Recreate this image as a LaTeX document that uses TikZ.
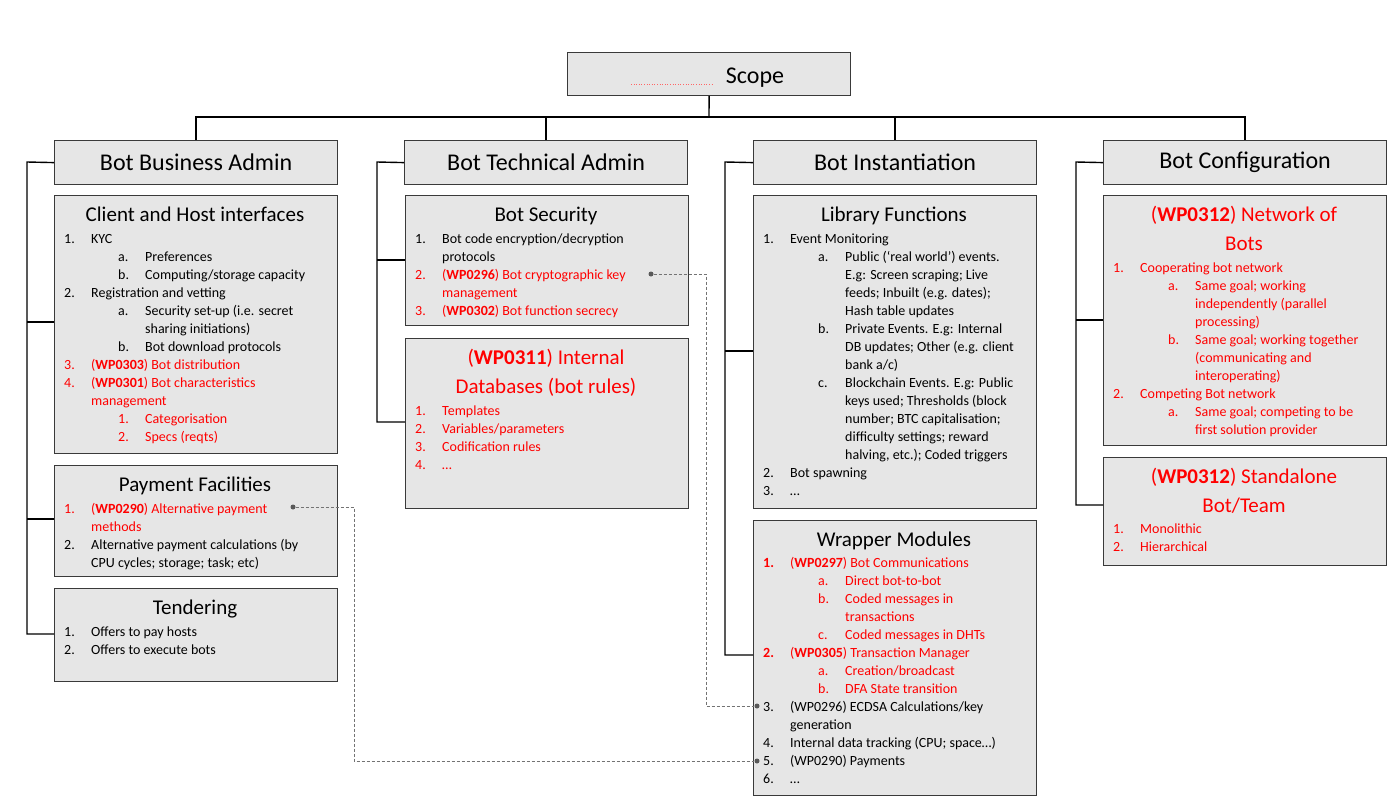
\documentclass[tikz,border=0pt]{standalone}
\usepackage{fontspec}
\setmainfont{Carlito}
\definecolor{boxfill}{HTML}{E6E6E6}
\definecolor{boxline}{HTML}{3A3A3A}
\definecolor{wpred}{HTML}{FF0000}
\newcommand\bodyfont{\fontsize{14}{16}\selectfont}
\newcommand\titlefont{\fontsize{21}{24}\selectfont}
\newcommand\headfont{\fontsize{24}{28}\selectfont}
% line: colour, x, y(center), text
\newcommand\tl[4][black]{\node[anchor=base west,inner sep=0,text=#1,font=\bodyfont] at (#2,#3+5) {#4};}
\newcommand\ttl[4][black]{\node[anchor=base,inner sep=0,text=#1,font=\titlefont] at (#2,#3+7) {#4};}
\tikzset{
  wbox/.style={draw=boxline,fill=boxfill,line width=1.2pt,anchor=north west,inner sep=0,minimum width=283pt},
  hbox/.style={wbox,minimum height=44pt,font=\headfont},
  tree/.style={draw=black,line width=1.4pt},
  link/.style={draw=gray!90!black,densely dashed,line width=0.8pt},
  dot/.style={circle,fill=gray!70!black,inner sep=0,minimum size=5pt}
}
\begin{document}
\begin{tikzpicture}[x=1pt,y=-1pt]
\useasboundingbox (0,0) rectangle (1400,803);
% scope
\node[wbox,minimum width=283pt,minimum height=43pt] (scope) at (567,52) {};
\draw[wpred!60,dotted,line width=0.6pt] (631,84) -- (714,84);
\node[font=\headfont,anchor=base] at (755,83) {Scope};
% headers
\node[hbox] (h1) at (54,140) {Bot Business Admin};
\node[hbox] (h2) at (404,140) {Bot Technical Admin};
\node[hbox] (h3) at (753,140) {Bot Instantiation};
\node[hbox] (h4) at (1103,140) {Bot Configuration};
\draw[tree] (scope.south) -- (709,117) coordinate (tj);
\draw[tree] (h1.north) |- (tj) -| (h4.north);
\draw[tree] (h2.north) -- (h2.north |- tj);
\draw[tree] (h3.north) -- (h3.north |- tj);
% boxes
\node[wbox,minimum height=258pt] (client) at (54,195) {};
\node[wbox,minimum height=111pt] (pay) at (54,465) {};
\node[wbox,minimum height=93pt] (tend) at (54,588) {};
\node[wbox,minimum height=130pt] (sec) at (405,195) {};
\node[wbox,minimum height=170pt] (idb) at (405,338) {};
\node[wbox,minimum height=313pt] (lib) at (753,195) {};
\node[wbox,minimum height=275pt] (wrap) at (753,520) {};
\node[wbox,minimum height=250pt] (net) at (1103,195) {};
\node[wbox,minimum height=108pt] (stand) at (1103,457) {};
% brackets
\draw[tree] (h1.west) -- (27,162) -- (27,634) -- (tend.west |- 0,634);
\draw[tree] (27,322) -- (client.west |- 0,322);
\draw[tree] (27,519) -- (pay.west |- 0,519);
\draw[tree] (h2.west) -- (377,162) -- (377,422) -- (idb.west |- 0,422);
\draw[tree] (377,260) -- (sec.west |- 0,260);
\draw[tree] (h3.west) -- (725,162) -- (725,655) -- (wrap.west |- 0,655);
\draw[tree] (725,351) -- (lib.west |- 0,351);
\draw[tree] (h4.west) -- (1076,162) -- (1076,505) -- (stand.west |- 0,505);
\draw[tree] (1076,320) -- (net.west |- 0,320);
% ---- column 1
\ttl{195}{214}{Client and Host interfaces}
\tl{64}{238}{1.}\tl{91}{238}{KYC}
\tl{118}{256}{a.}\tl{145}{256}{Preferences}
\tl{118}{274}{b.}\tl{145}{274}{Computing/storage capacity}
\tl{64}{292}{2.}\tl{91}{292}{Registration and vetting}
\tl{118}{310}{a.}\tl{145}{310}{Security set-up (i.e. secret}
\tl{145}{328}{sharing initiations)}
\tl{118}{346}{b.}\tl{145}{346}{Bot download protocols}
\tl[wpred]{64}{364}{3.}\tl[wpred]{91}{364}{(\textbf{WP0303}) Bot distribution}
\tl[wpred]{64}{382}{4.}\tl[wpred]{91}{382}{(\textbf{WP0301}) Bot characteristics}
\tl[wpred]{91}{400}{management}
\tl[wpred]{118}{418}{1.}\tl[wpred]{145}{418}{Categorisation}
\tl[wpred]{118}{436}{2.}\tl[wpred]{145}{436}{Specs (reqts)}
\ttl{195}{484}{Payment Facilities}
\tl[wpred]{64}{508}{1.}\tl[wpred]{91}{508}{(\textbf{WP0290}) Alternative payment}
\tl[wpred]{91}{526}{methods}
\tl{64}{544}{2.}\tl{91}{544}{Alternative payment calculations (by}
\tl{91}{562}{CPU cycles; storage; task; etc)}
\ttl{195}{607}{Tendering}
\tl{64}{631}{1.}\tl{91}{631}{Offers to pay hosts}
\tl{64}{649}{2.}\tl{91}{649}{Offers to execute bots}
% ---- column 2
\ttl{546}{214}{Bot Security}
\tl{415}{238}{1.}\tl{442}{238}{Bot code encryption/decryption}
\tl{442}{256}{protocols}
\tl[wpred]{415}{274}{2.}\tl[wpred]{442}{274}{(\textbf{WP0296}) Bot cryptographic key}
\tl[wpred]{442}{292}{management}
\tl[wpred]{415}{310}{3.}\tl[wpred]{442}{310}{(\textbf{WP0302}) Bot function secrecy}
\ttl[wpred]{546}{357}{(\textbf{WP0311}) Internal}
\ttl[wpred]{546}{386}{Databases (bot rules)}
\tl[wpred]{415}{410}{1.}\tl[wpred]{442}{410}{Templates}
\tl[wpred]{415}{428}{2.}\tl[wpred]{442}{428}{Variables/parameters}
\tl[wpred]{415}{446}{3.}\tl[wpred]{442}{446}{Codification rules}
\tl[wpred]{415}{464}{4.}\tl[wpred]{442}{464}{\dots}
% ---- column 3
\ttl{894}{214}{Library Functions}
\tl{763}{238}{1.}\tl{790}{238}{Event Monitoring}
\tl{818}{256}{a.}\tl{845}{256}{Public (‘real world’) events.}
\tl{845}{274}{E.g: Screen scraping; Live}
\tl{845}{292}{feeds; Inbuilt (e.g. dates);}
\tl{845}{310}{Hash table updates}
\tl{818}{328}{b.}\tl{845}{328}{Private Events. E.g: Internal}
\tl{845}{346}{DB updates; Other (e.g. client}
\tl{845}{364}{bank a/c)}
\tl{818}{382}{c.}\tl{845}{382}{Blockchain Events. E.g: Public}
\tl{845}{400}{keys used; Thresholds (block}
\tl{845}{418}{number; BTC capitalisation;}
\tl{845}{436}{difficulty settings; reward}
\tl{845}{454}{halving, etc.); Coded triggers}
\tl{763}{472}{2.}\tl{790}{472}{Bot spawning}
\tl{763}{490}{3.}\tl{790}{490}{\dots}
\ttl{894}{539}{Wrapper Modules}
\tl[wpred]{763}{562}{\textbf{1.}}\tl[wpred]{790}{562}{(\textbf{WP0297}) Bot Communications}
\tl[wpred]{818}{580}{a.}\tl[wpred]{845}{580}{Direct bot-to-bot}
\tl[wpred]{818}{598}{b.}\tl[wpred]{845}{598}{Coded messages in}
\tl[wpred]{845}{616}{transactions}
\tl[wpred]{818}{634}{c.}\tl[wpred]{845}{634}{Coded messages in DHTs}
\tl[wpred]{763}{652}{\textbf{2.}}\tl[wpred]{790}{652}{(\textbf{WP0305}) Transaction Manager}
\tl[wpred]{818}{670}{a.}\tl[wpred]{845}{670}{Creation/broadcast}
\tl[wpred]{818}{688}{b.}\tl[wpred]{845}{688}{DFA State transition}
\tl{763}{706}{3.}\tl{790}{706}{(WP0296) ECDSA Calculations/key}
\tl{790}{724}{generation}
\tl{763}{742}{4.}\tl{790}{742}{Internal data tracking (CPU; space…)}
\tl{763}{760}{5.}\tl{790}{760}{(WP0290) Payments}
\tl{763}{778}{6.}\tl{790}{778}{\dots}
% ---- column 4
\ttl[wpred]{1244}{214}{(\textbf{WP0312}) Network of}
\ttl[wpred]{1244}{243}{Bots}
\tl[wpred]{1113}{267}{1.}\tl[wpred]{1140}{267}{Cooperating bot network}
\tl[wpred]{1168}{285}{a.}\tl[wpred]{1195}{285}{Same goal; working}
\tl[wpred]{1195}{303}{independently (parallel}
\tl[wpred]{1195}{321}{processing)}
\tl[wpred]{1168}{339}{b.}\tl[wpred]{1195}{339}{Same goal; working together}
\tl[wpred]{1195}{357}{(communicating and}
\tl[wpred]{1195}{375}{interoperating)}
\tl[wpred]{1113}{393}{2.}\tl[wpred]{1140}{393}{Competing Bot network}
\tl[wpred]{1168}{411}{a.}\tl[wpred]{1195}{411}{Same goal; competing to be}
\tl[wpred]{1195}{429}{first solution provider}
\ttl[wpred]{1244}{476}{(\textbf{WP0312}) Standalone}
\ttl[wpred]{1244}{505}{Bot/Team}
\tl[wpred]{1113}{528}{1.}\tl[wpred]{1140}{528}{Monolithic}
\tl[wpred]{1113}{546}{2.}\tl[wpred]{1140}{546}{Hierarchical}
% ---- dashed links
\node[dot] (d1) at (651,274) {};
\node[dot] (d2) at (757,706) {};
\node[dot] (d3) at (293,507) {};
\node[dot] (d4) at (757,761) {};
\draw[link] (d1) -- (706,274) -- (706,706) -- (d2);
\draw[link] (d3) -- (354,507) -- (354,761) -- (d4);
\end{tikzpicture}
\end{document}
